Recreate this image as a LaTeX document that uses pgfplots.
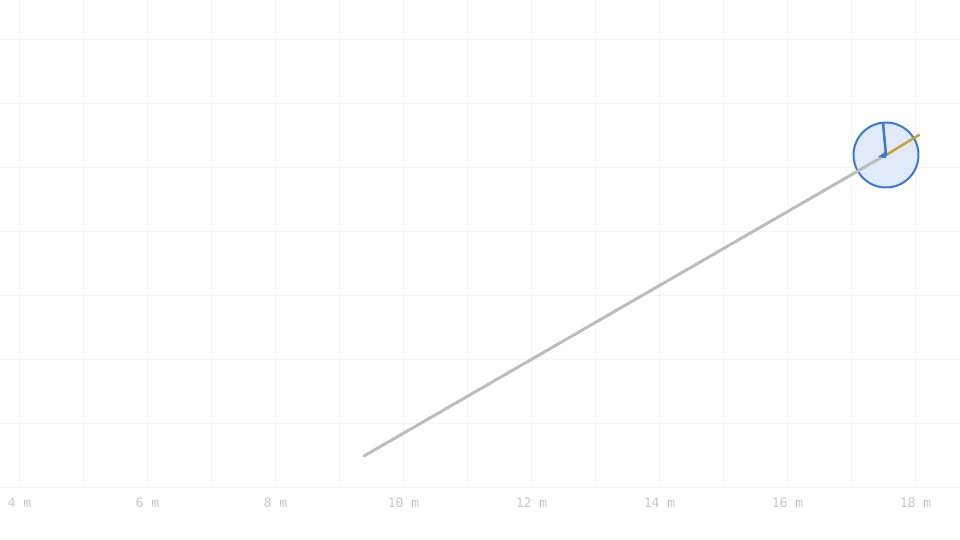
\documentclass[border=0pt]{standalone}
\usepackage{pgfplots}
\pgfplotsset{compat=1.18}
\usepackage{fontspec}
\setmonofont{DejaVu Sans Mono}
\definecolor{gridc}{HTML}{F4F4F4}
\definecolor{lab}{HTML}{C6C6C6}
\definecolor{trail}{HTML}{BDBDBA}
\definecolor{blu}{HTML}{3A78D8}
\definecolor{blufill}{HTML}{E1EAF8}
\definecolor{gold}{HTML}{C9A233}
\begin{document}
\begin{tikzpicture}
\useasboundingbox (0,-52bp) rectangle (960bp,488bp);
\begin{axis}[
  at={(0,0)}, anchor=south west,
  scale only axis, width=960bp, height=488bp,
  xmin=3.6953, xmax=18.6953, ymin=0, ymax=7.625,
  clip marker paths=true,
  axis line style={draw=none},
  tick style={draw=none},
  major tick length=0pt, minor tick length=0pt,
  grid=both,
  grid style={gridc, line width=1bp},
  minor grid style={gridc, line width=1bp},
  xtick={4,6,8,10,12,14,16,18},
  minor xtick={5,7,9,11,13,15,17},
  xticklabels={4 m,6 m,8 m,10 m,12 m,14 m,16 m,18 m},
  ytick={0,1,2,3,4,5,6,7},
  yticklabels={},
  xticklabel style={font=\ttfamily\fontsize{13}{13}\selectfont, text=lab, anchor=base, yshift=-19.5bp},
]
\addplot[only marks, mark=*, mark size=32.6pt, mark options={draw=blu, fill=blufill, line width=2bp}] coordinates {(17.539,5.203)};
\addplot[trail, line width=3bp, line cap=round, mark=none] coordinates {(9.383,0.5) (17.51,5.19)};
\addplot[gold, line width=2.5bp, line cap=round, mark=none] coordinates {(17.539,5.203) (18.055,5.516)};
\addplot[blu, line width=2.5bp, line cap=round, mark=none] coordinates {(17.539,5.203) (17.492,5.703)};
\addplot[fill=blu, draw=none, mark=none] coordinates {(17.414,5.172) (17.539,5.266) (17.539,5.156)} -- cycle;
\end{axis}
\end{tikzpicture}
\end{document}
